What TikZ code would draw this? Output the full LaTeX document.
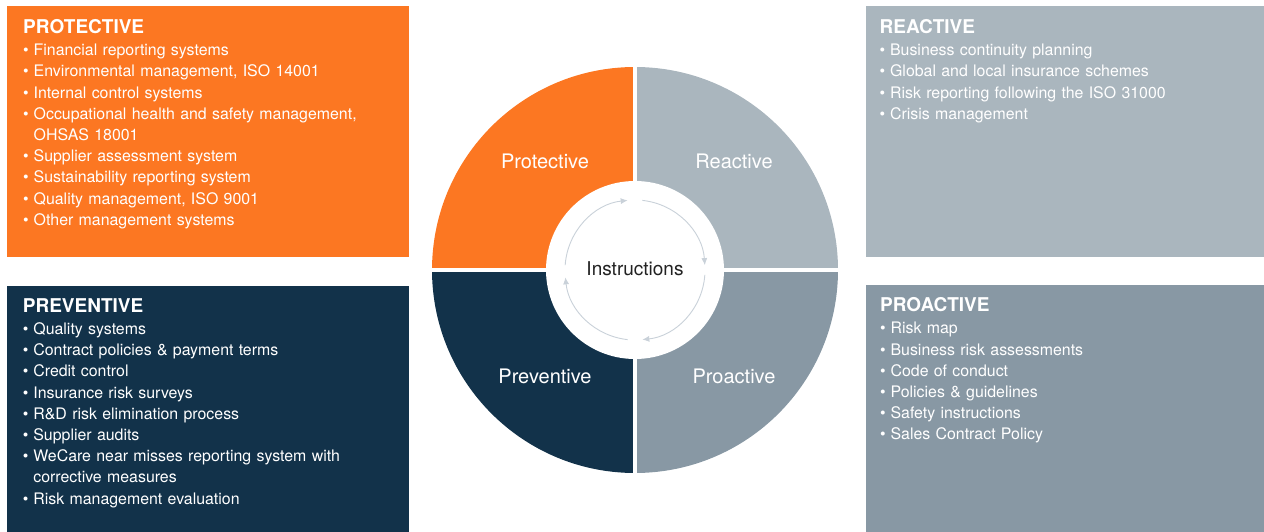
\documentclass[tikz,border=0pt]{standalone}
\usepackage{fontspec}
\setmainfont{TeX Gyre Heros}
\usetikzlibrary{positioning, arrows.meta}
\usepackage{xcolor}

\definecolor{protorange}{HTML}{FC7722}
\definecolor{reactgray}{HTML}{AAB6BE}
\definecolor{proactgray}{HTML}{8898A4}
\definecolor{preventnavy}{HTML}{12324A}
\definecolor{cyclegray}{HTML}{C9D1D9}
\definecolor{instrtext}{HTML}{222222}

\newcommand{\bul}[1]{\makebox[10.5pt][l]{\textbullet}#1}
\newcommand{\cont}[1]{\hspace*{10.5pt}#1}
\newcommand{\ptitle}[1]{{\bfseries\fontsize{19}{21}\selectfont #1}\\[1.2pt]}

\begin{document}
\begin{tikzpicture}[x=1pt, y=1pt]
    % Styles
    \tikzset{
        panel/.style={rectangle, anchor=north west, inner sep=0pt, minimum width=402pt, minimum height=251pt},
        paneltext/.style={anchor=base west, inner sep=0pt, text width=385pt, align=left, text=white, font=\fontsize{15.9}{21.2}\selectfont},
        quadlabel/.style={text=white, inner sep=0pt, font=\fontsize{20}{22}\selectfont},
        cyclearrow/.style={cyclegray, line width=0.9pt, -{Latex[length=7pt, width=6pt]}}
    }
    \useasboundingbox (0,0) rectangle (1264,-532);

    % Panels
    \node [panel, fill=protorange] (protbox) at (7,-6) {};
    \node [panel, fill=preventnavy, below=28pt of protbox, minimum height=247pt] (prevbox) {};
    \node [panel, fill=reactgray, right=456pt of protbox, minimum width=399pt] (reactbox) {};
    \node [panel, fill=proactgray, below=27pt of reactbox, minimum width=399pt, minimum height=248pt] (proabox) {};

    % Panel texts
    \node [paneltext] (prottext) at ([xshift=16pt, yshift=-27.3pt]protbox.north west) {%
        \ptitle{PROTECTIVE}
        \bul{Financial reporting systems}\\
        \bul{Environmental management, ISO 14001}\\
        \bul{Internal control systems}\\
        \bul{Occupational health and safety management,}\\
        \cont{OHSAS 18001}\\
        \bul{Supplier assessment system}\\
        \bul{Sustainability reporting system}\\
        \bul{Quality management, ISO 9001}\\
        \bul{Other management systems}};
    \node [paneltext] (reacttext) at ([xshift=14pt, yshift=-27.3pt]reactbox.north west) {%
        \ptitle{REACTIVE}
        \bul{Business continuity planning}\\
        \bul{Global and local insurance schemes}\\
        \bul{Risk reporting following the ISO 31000}\\
        \bul{Crisis management}};
    \node [paneltext] (prevtext) at ([xshift=15.7pt, yshift=-26.7pt]prevbox.north west) {%
        \ptitle{PREVENTIVE}
        \bul{Quality systems}\\
        \bul{Contract policies \& payment terms}\\
        \bul{Credit control}\\
        \bul{Insurance risk surveys}\\
        \bul{R\&D risk elimination process}\\
        \bul{Supplier audits}\\
        \bul{WeCare near misses reporting system with}\\
        \cont{corrective measures}\\
        \bul{Risk management evaluation}};
    \node [paneltext] (proatext) at ([xshift=14.5pt, yshift=-27pt]proabox.north west) {%
        \ptitle{PROACTIVE}
        \bul{Risk map}\\
        \bul{Business risk assessments}\\
        \bul{Code of conduct}\\
        \bul{Policies \& guidelines}\\
        \bul{Safety instructions}\\
        \bul{Sales Contract Policy}};

    % Wheel
    \coordinate (ctr) at (635,-270);
    \fill [protorange] (ctr) -- ++(180:203) arc [start angle=180, end angle=90, radius=203] -- cycle;
    \fill [reactgray] (ctr) -- ++(90:203) arc [start angle=90, end angle=0, radius=203] -- cycle;
    \fill [proactgray] (ctr) -- ++(0:203) arc [start angle=0, end angle=-90, radius=203] -- cycle;
    \fill [preventnavy] (ctr) -- ++(-90:203) arc [start angle=-90, end angle=-180, radius=203] -- cycle;
    \draw [white, line width=4.5pt] ([yshift=206pt]ctr) -- ([yshift=-206pt]ctr);
    \draw [white, line width=4.5pt] ([xshift=-206pt]ctr) -- ([xshift=206pt]ctr);
    \fill [white] (ctr) circle [radius=89];

    % Cycle arrows
    \draw [cyclearrow] ([shift={(176:70)}]ctr) arc [start angle=176, end angle=96, radius=70];
    \draw [cyclearrow] ([shift={(84:70)}]ctr) arc [start angle=84, end angle=4, radius=70];
    \draw [cyclearrow] ([shift={(-4:70)}]ctr) arc [start angle=-4, end angle=-84, radius=70];
    \draw [cyclearrow] ([shift={(264:70)}]ctr) arc [start angle=264, end angle=186, radius=70];

    % Labels
    \node [text=instrtext, font=\fontsize{19}{22}\selectfont] (instr) at ([yshift=1pt]ctr) {Instructions};
    \node [quadlabel] (protlabel) at (545,-161) {Protective};
    \node [quadlabel] (reactlabel) at (734,-161) {Reactive};
    \node [quadlabel] (prevlabel) at (545,-376) {Preventive};
    \node [quadlabel] (proalabel) at (734,-376) {Proactive};
\end{tikzpicture}
\end{document}
